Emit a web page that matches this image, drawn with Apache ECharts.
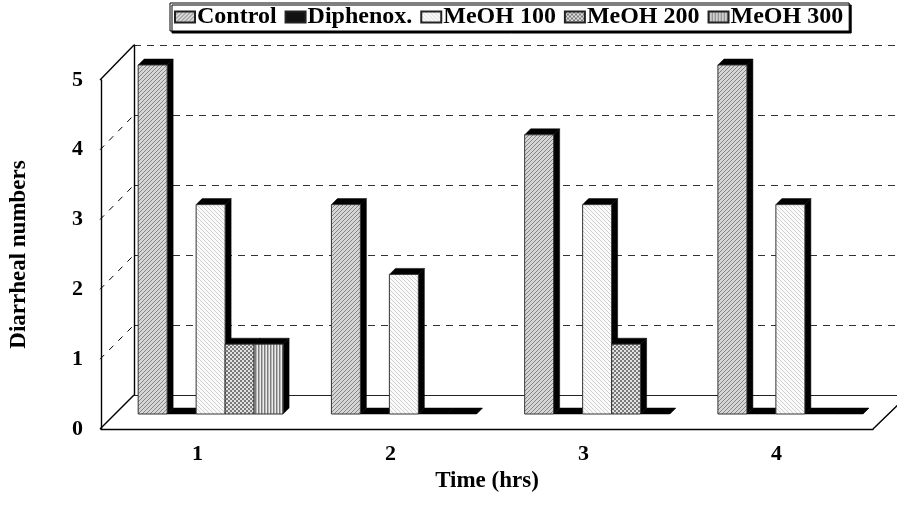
<!DOCTYPE html>
<html>
<head>
<meta charset="utf-8">
<script src="https://cdn.jsdelivr.net/npm/echarts@6/dist/echarts.min.js"></script>
<style>
  html, body { margin: 0; padding: 0; background: #fff; }
  #chart { width: 897px; height: 506px; }
</style>
</head>
<body>
<div id="chart"></div>
<script>
// data
const categories = ['1', '2', '3', '4'];
const seriesNames = ['Control', 'Diphenox.', 'MeOH 100', 'MeOH 200', 'MeOH 300'];
const control = [5, 3, 4, 5];
const diphenox = [0, 0, 0, 0];
const meoh100 = [3, 2, 3, 3];
const meoh200 = [1, 0, 1, 0];
const meoh300 = [1, 0, 0, 0];
const yTicks = [0, 1, 2, 3, 4, 5];

const W = 897, H = 506;
// front plane, bar plane, back wall (pseudo 3d)
const FRONT = { left: 100, right: 24, top: 80, bottom: 77 };
const BARS = { left: 114, right: 10, top: 65, bottom: 92 };
const BACK = { left: 134, right: -11, top: 45, bottom: 111 };
const GROUP_FRAC = 0.75;   // share of a category band taken by the 5 bars
const SIDE = 6;            // depth of the black top / side faces
const FONT = "'Liberation Serif', 'Times New Roman', serif";

function pattern(w, h, draw) {
  const c = document.createElement('canvas');
  c.width = w; c.height = h;
  draw(c.getContext('2d'));
  return { image: c, repeat: 'repeat' };
}
function px(ctx, x, y, col) { ctx.fillStyle = col; ctx.fillRect(x, y, 1, 1); }

const fills = [
  pattern(4, 4, ctx => {
    ctx.fillStyle = '#d6d6d6'; ctx.fillRect(0, 0, 4, 4);
    for (let i = 0; i < 4; i++) px(ctx, i, 3 - i, '#848484');
  }),
  '#111',
  pattern(4, 4, ctx => {
    ctx.fillStyle = '#fbfbfb'; ctx.fillRect(0, 0, 4, 4);
    for (let i = 0; i < 4; i++) px(ctx, i, i, '#cfcfcf');
  }),
  pattern(4, 4, ctx => {
    ctx.fillStyle = '#e2e2e2'; ctx.fillRect(0, 0, 4, 4);
    ctx.fillStyle = '#7a7a7a'; ctx.fillRect(0, 0, 2, 2); ctx.fillRect(2, 2, 2, 2);
  }),
  pattern(3, 4, ctx => {
    ctx.fillStyle = '#7c7c7c'; ctx.fillRect(0, 0, 1, 4);
    ctx.fillStyle = '#b8b8b8'; ctx.fillRect(1, 0, 1, 4);
    ctx.fillStyle = '#ececec'; ctx.fillRect(2, 0, 1, 4);
  })
];

const values = [control, diphenox, meoh100, meoh200, meoh300];

function makeRender(sIdx) {
  return function (params, api) {
    const cat = api.value(0);
    const val = api.value(1);
    const base = api.coord([cat, 0]);
    const top = api.coord([cat, val]);
    const band = api.size([1, 0])[0];
    const w = band * GROUP_FRAC / 5;
    const x0 = base[0] - band * GROUP_FRAC / 2 + sIdx * w;
    const x1 = x0 + w;
    const yt = top[1], yb = base[1];
    const black = { fill: '#000', stroke: '#000', lineWidth: 0.5 };
    const children = [
      { type: 'polygon', shape: { points: [[x1, yt], [x1 + SIDE, yt - SIDE], [x1 + SIDE, yb - SIDE], [x1, yb]] }, style: black },
      { type: 'polygon', shape: { points: [[x0, yt], [x0 + SIDE, yt - SIDE], [x1 + SIDE, yt - SIDE], [x1, yt]] }, style: black }
    ];
    if (val > 0) {
      children.push({
        type: 'rect',
        shape: { x: x0, y: yt, width: w, height: yb - yt },
        style: api.style({ stroke: '#333', lineWidth: 1 })
      });
    }
    return { type: 'group', children };
  };
}

const series = seriesNames.map((name, s) => ({
  name,
  type: 'custom',
  xAxisIndex: 1,
  yAxisIndex: 1,
  itemStyle: { color: fills[s], borderColor: '#222', borderWidth: 1 },
  encode: { x: 0, y: 1 },
  data: values[s].map((v, i) => [i, v]),
  renderItem: makeRender(s),
  z: 3
}));

// walls: left wall edges, its dashed grid, floor edges
function yOf(g, v) {
  const top = g.top, bot = H - g.bottom;
  return bot - (bot - top) * v / yTicks[yTicks.length - 1];
}
const frontR = W - FRONT.right, backR = W - BACK.right;
const seg = (a, b, dash) => ({
  type: 'line', silent: true, z: 1,
  shape: { x1: a[0], y1: a[1], x2: b[0], y2: b[1] },
  style: { stroke: '#000', lineWidth: dash ? 1 : 1.4, lineDash: dash ? [6, 7] : null }
});
const walls = [
  seg([FRONT.left, yOf(FRONT, 5)], [BACK.left, yOf(BACK, 5)]),
  seg([FRONT.left, yOf(FRONT, 0)], [BACK.left, yOf(BACK, 0)]),
  seg([frontR, yOf(FRONT, 0)], [backR, yOf(BACK, 0)])
];
yTicks.slice(1, -1).forEach(v => {
  walls.push(seg([FRONT.left, yOf(FRONT, v)], [BACK.left, yOf(BACK, v)], true));
});

const boldText = { fontFamily: FONT, fontWeight: 'bold', fontSize: 22, color: '#000' };
const nameText = Object.assign({}, boldText, { fontSize: 23 });

const chart = echarts.init(document.getElementById('chart'), null, { renderer: 'canvas' });
chart.setOption({
  animation: false,
  backgroundColor: '#fff',
  legend: {
    data: seriesNames,
    left: 170,
    top: 3,
    icon: 'rect',
    itemWidth: 20,
    itemHeight: 11,
    itemGap: 8,
    padding: [2, 6, 2, 4],
    backgroundColor: '#fff',
    borderColor: '#000',
    borderWidth: 1,
    shadowColor: '#000',
    shadowOffsetX: 2,
    shadowOffsetY: 2,
    textStyle: Object.assign({}, boldText, { fontSize: 24, padding: [0, 0, 0, -3] })
  },
  graphic: walls,
  grid: [
    Object.assign({}, FRONT),
    Object.assign({}, BARS),
    Object.assign({}, BACK)
  ],
  xAxis: [
    {
      gridIndex: 0, type: 'category', data: categories,
      axisLine: { show: true, lineStyle: { color: '#000', width: 1.4 } },
      axisTick: { show: false },
      axisLabel: Object.assign({ margin: 14 }, boldText),
      name: 'Time (hrs)', nameLocation: 'middle', nameGap: 36,
      nameTextStyle: nameText
    },
    { gridIndex: 1, type: 'category', data: categories, show: false },
    {
      gridIndex: 2, type: 'category', data: categories,
      axisLine: { show: true, lineStyle: { color: '#222', width: 1.2 } },
      axisTick: { show: false }, axisLabel: { show: false }
    }
  ],
  yAxis: [
    {
      gridIndex: 0, type: 'value', min: 0, max: 5, interval: 1,
      axisLine: { show: true, lineStyle: { color: '#000', width: 1.4 } },
      axisTick: { show: false },
      splitLine: { show: false },
      axisLabel: Object.assign({ margin: 18 }, boldText),
      name: 'Diarrheal numbers', nameLocation: 'middle', nameGap: 70,
      nameTextStyle: nameText
    },
    { gridIndex: 1, type: 'value', min: 0, max: 5, interval: 1, show: false },
    {
      gridIndex: 2, type: 'value', min: 0, max: 5, interval: 1,
      axisLine: { show: true, lineStyle: { color: '#000', width: 1.4 } },
      axisTick: { show: false }, axisLabel: { show: false },
      splitLine: { show: true, lineStyle: { color: '#333', type: [7, 6], width: 1 } }
    }
  ],
  series
});
</script>
</body>
</html>
